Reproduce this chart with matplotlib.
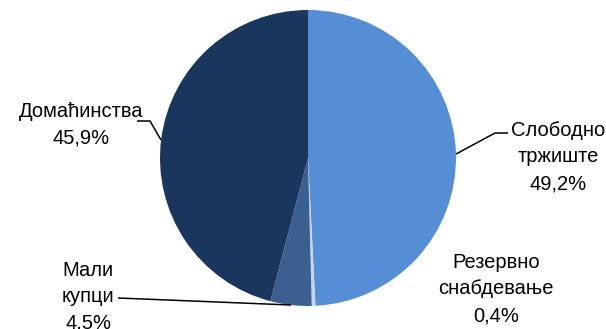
import matplotlib.pyplot as plt
from matplotlib import font_manager

# data
labels = ["Слободно\nтржиште", "Резервно\nснабдевање", "Мали\nкупци", "Домаћинства"]
shares = [49.2, 0.4, 4.5, 45.9]
pct_text = ["49,2%", "0,4%", "4.5%", "45,9%"]
colors = ["#558ED5", "#C6D6EA", "#3B6090", "#1B365D"]

W, H = 606, 329
fig = plt.figure(figsize=(W / 100, H / 100), dpi=100)
ax = fig.add_axes([0, 0, 1, 1])

cx, cy, r = 308, H - 158, 148
ax.pie(shares, colors=colors, startangle=90, counterclock=False,
       center=(cx, cy), radius=r, frame=True,
       wedgeprops=dict(linewidth=0))
ax.set_xlim(0, W)
ax.set_ylim(0, H)
ax.set_aspect("equal")
ax.axis("off")

names = {f.name for f in font_manager.fontManager.ttflist}
if "Liberation Sans Narrow" in names:
    font = dict(family="Liberation Sans Narrow", fontsize=17, linespacing=1.3)
else:
    font = dict(family="Liberation Sans", fontsize=14.5, linespacing=1.5)
font.update(ha="center", va="center", color="black")

# label centres in pixel coords (x, y from top)
pos = [(558, 157), (496, 289), (88, 297), (81, 125)]
for lab, pt, (x, y) in zip(labels, pct_text, pos):
    ax.text(x, H - y, lab + "\n" + pt, **font)

# leader lines
def leader(pts):
    xs = [p[0] for p in pts]
    ys = [H - p[1] for p in pts]
    ax.plot(xs, ys, color="black", lw=1.1, solid_capstyle="butt")

leader([(508, 133), (495, 133), (456, 154)])
leader([(118, 298), (291, 305)])
leader([(137, 121), (150, 121), (161, 140)])

fig.savefig("out.png", dpi=100)
